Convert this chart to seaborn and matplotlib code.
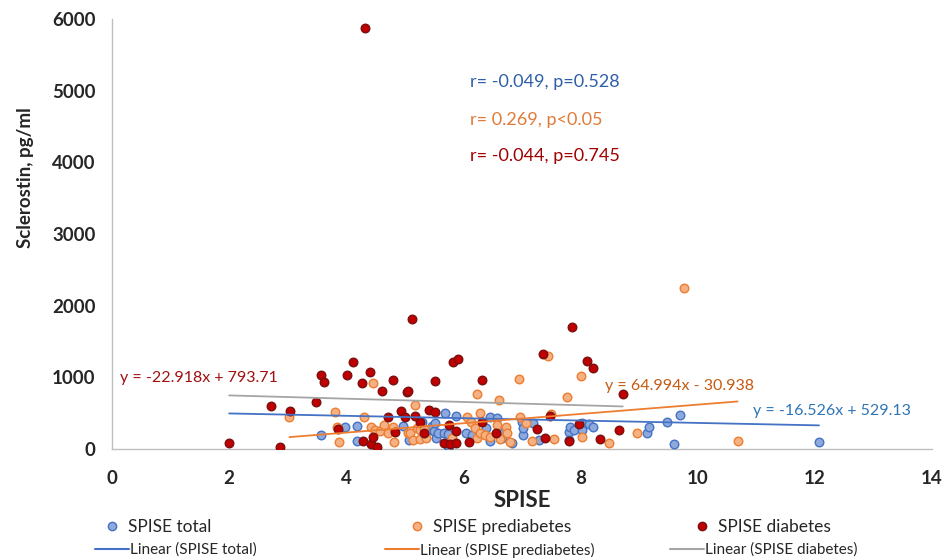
import numpy as np
import pandas as pd
import matplotlib
matplotlib.use("Agg")
import matplotlib.pyplot as plt
import seaborn as sns
from matplotlib.lines import Line2D
from matplotlib.ticker import MultipleLocator

# ---------------- data ----------------
total_x = [3.56, 3.98, 4.18, 4.19, 4.96, 5.07, 5.30, 5.43, 5.46, 5.49, 5.51, 5.54, 5.57,
           5.66, 5.69, 5.73, 5.73, 5.76, 5.87, 6.04, 6.14, 6.39, 6.45, 6.45, 6.57, 6.65,
           6.69, 6.83, 7.00, 7.01, 7.02, 7.18, 7.29, 7.80, 7.81, 7.82, 7.88, 8.02, 8.02,
           8.15, 8.22, 9.14, 9.17, 9.48, 9.60, 9.70, 12.07]
total_y = [191, 307, 107, 316, 321, 126, 381, 265, 325, 251, 358, 149, 228,
           219, 507, 209, 42, 46, 465, 219, 195, 288, 442, 112, 428, 149,
           242, 88, 381, 195, 288, 365, 126, 242, 126, 303, 265, 358, 265,
           350, 311, 219, 303, 381, 75, 474, 102]

pre_x = [3.03, 3.81, 3.84, 3.88, 4.30, 4.42, 4.45, 4.49, 4.57, 4.64, 4.72, 4.80, 4.81,
         5.06, 5.08, 5.14, 5.17, 5.20, 5.25, 5.26, 5.32, 5.36, 5.80, 6.06, 6.13, 6.20,
         6.23, 6.24, 6.28, 6.28, 6.37, 6.45, 6.57, 6.60, 6.62, 6.73, 6.75, 6.80, 6.95,
         6.97, 7.06, 7.17, 7.44, 7.50, 7.54, 7.76, 8.01, 8.02, 8.49, 8.97, 9.77, 10.68]
pre_y = [442, 518, 303, 98, 440, 311, 916, 269, 251, 330, 219, 302, 98,
         228, 219, 126, 609, 298, 260, 135, 275, 149, 149, 451, 372, 288,
         149, 770, 498, 219, 195, 163, 335, 684, 135, 311, 219, 102, 981,
         451, 367, 112, 1300, 490, 135, 730, 1023, 163, 90, 228, 2246, 116]

dia_x = [2.00, 2.72, 2.86, 3.04, 3.48, 3.56, 3.62, 3.85, 4.02, 4.12, 4.27, 4.28, 4.32,
         4.40, 4.42, 4.45, 4.52, 4.61, 4.72, 4.79, 4.83, 4.93, 5.00, 5.03, 5.05, 5.12,
         5.17, 5.26, 5.33, 5.41, 5.51, 5.51, 5.66, 5.75, 5.77, 5.83, 5.87, 5.87, 5.90,
         6.10, 6.31, 6.32, 6.56, 7.25, 7.35, 7.39, 7.47, 7.80, 7.85, 7.98, 8.11, 8.22,
         8.33, 8.66, 8.72]
dia_y = [90, 604, 25, 530, 650, 1037, 930, 280, 1037, 1218, 914, 107, 5873,
         1076, 70, 163, 28, 813, 442, 958, 240, 525, 440, 791, 811, 1808,
         465, 372, 224, 544, 948, 510, 79, 330, 65, 1212, 88, 256, 1251,
         93, 375, 960, 219, 275, 1325, 149, 462, 112, 1704, 342, 1232, 1126,
         135, 260, 767]

# trendline coefficients shown in the chart (slope, intercept) and x-ranges
trend_slope = [-16.526, 64.994, -22.918]
trend_icept = [529.13, -30.938, 793.71]
trend_xmin = [2.00, 3.03, 2.00]
trend_xmax = [12.07, 10.68, 8.72]

series_names = ["SPISE total", "SPISE prediabetes", "SPISE diabetes"]
line_names = ["Linear (SPISE total)", "Linear (SPISE prediabetes)", "Linear (SPISE diabetes)"]
eq_texts = ["y = -16.526x + 529.13", "y = 64.994x - 30.938", "y = -22.918x + 793.71"]
stat_texts = ["r= -0.049, p=0.528", "r= 0.269, p<0.05", "r= -0.044, p=0.745"]

x_ticks = [0, 2, 4, 6, 8, 10, 12, 14]
y_ticks = [0, 1000, 2000, 3000, 4000, 5000, 6000]

# ---------------- styling ----------------
fills = ["#8EA9DB", "#F4B183", "#C00000"]
edges = ["#4472C4", "#ED7D31", "#7A1010"]
line_colors = ["#4472C4", "#ED7D31", "#A5A5A5"]
stat_colors = ["#2F5FA8", "#E07B39", "#A00000"]
eq_colors = ["#2E75B6", "#C55A11", "#A01010"]

sns.set_theme(style="white")
plt.rcParams["font.family"] = ["Lato", "DejaVu Sans"]

fig = plt.figure(figsize=(9.47, 5.59), dpi=100)
ax = fig.add_axes([112 / 947, 1 - 449 / 559, (932 - 112) / 947, (449 - 19) / 559])

xs = [total_x, pre_x, dia_x]
ys = [total_y, pre_y, dia_y]
for i in range(3):
    df = pd.DataFrame({"x": xs[i], "y": ys[i]})
    sns.scatterplot(data=df, x="x", y="y", ax=ax, s=38, color=fills[i],
                    edgecolor=edges[i], linewidth=1.0, zorder=3 + i, legend=False)

for i in range(3):
    lx = np.array([trend_xmin[i], trend_xmax[i]])
    ly = trend_slope[i] * lx + trend_icept[i]
    sns.lineplot(x=lx, y=ly, ax=ax, color=line_colors[i], linewidth=1.3,
                 zorder=7, legend=False)

ax.set_xlim(0, 14)
ax.set_ylim(0, 6000)
ax.set_xticks(x_ticks)
ax.set_yticks(y_ticks)
ax.xaxis.set_minor_locator(MultipleLocator(0.4))
ax.yaxis.set_minor_locator(MultipleLocator(200))
ax.tick_params(axis="both", which="both", direction="out", length=5, width=1,
               color="#BFBFBF")
ax.tick_params(axis="y", which="major", labelsize=13.5, pad=7)
ax.tick_params(axis="x", which="major", labelsize=13.5, pad=10)
for lab in ax.get_xticklabels() + ax.get_yticklabels():
    lab.set_fontweight("bold")
for side in ["top", "right"]:
    ax.spines[side].set_visible(False)
for side in ["left", "bottom"]:
    ax.spines[side].set_color("#BFBFBF")
    ax.spines[side].set_linewidth(1)

ax.set_xlabel("SPISE", fontsize=16, fontweight="bold", labelpad=2)
ax.set_ylabel("Sclerostin, pg/ml", fontsize=13.5, fontweight="bold")
ax.yaxis.set_label_coords(-0.095, 0.63)

# stats text
stat_y_px = [82, 120, 156]
for i in range(3):
    fig.text(470 / 947, 1 - stat_y_px[i] / 559, stat_texts[i], color=stat_colors[i],
             fontsize=13, ha="left", va="center")

# equations
eq_pos = [(753, 411), (605, 386), (120, 378)]
for i in range(3):
    fig.text(eq_pos[i][0] / 947, 1 - eq_pos[i][1] / 559, eq_texts[i], color=eq_colors[i],
             fontsize=11.5, ha="left", va="center")

# legend (manual placement of entries)
mk_x = [105, 410, 695]
for i in range(3):
    h = Line2D([], [], linestyle="none", marker="o", markersize=6,
               markerfacecolor=fills[i], markeredgecolor=edges[i])
    fig.legend(handles=[h], labels=[series_names[i]], loc="center left",
               bbox_to_anchor=(mk_x[i] / 947, 1 - 527 / 559), frameon=False,
               fontsize=12.5, handlelength=0.8, handletextpad=0.5,
               borderpad=0, borderaxespad=0)
ln_x = [95, 385, 670]
for i in range(3):
    h = Line2D([], [], color=line_colors[i], linewidth=1.5)
    fig.legend(handles=[h], labels=[line_names[i]], loc="center left",
               bbox_to_anchor=(ln_x[i] / 947, 1 - 550 / 559), frameon=False,
               fontsize=11, handlelength=2.2, handletextpad=0.1,
               borderpad=0, borderaxespad=0)

fig.savefig("out.png", dpi=100)
